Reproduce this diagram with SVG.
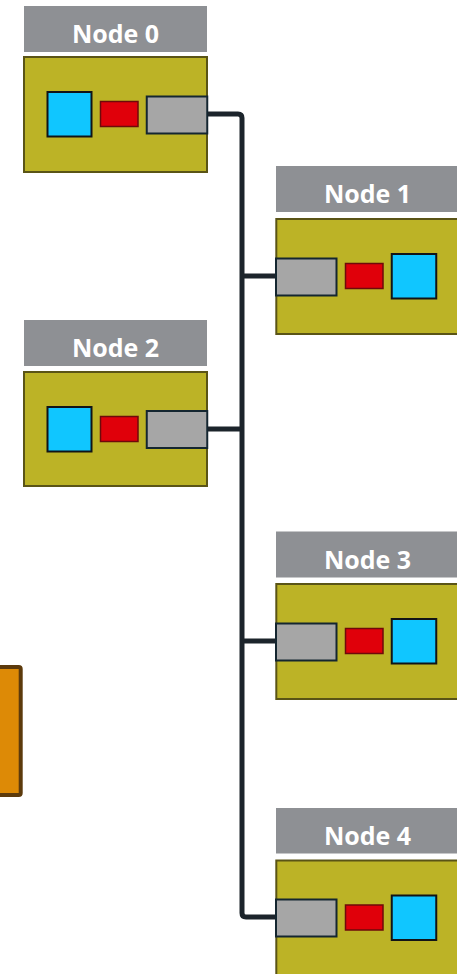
<svg xmlns="http://www.w3.org/2000/svg" width="457" height="974" viewBox="0 0 457 974">
  <style>
    .hdr { fill: #8e9094; }
    .lbl { font-family: "Open Sans", "Noto Sans", sans-serif; font-weight: 700; font-size: 25px; fill: #ffffff; text-anchor: middle; }
    .body { fill: #bcb326; stroke: #5a5416; stroke-width: 2; }
    .blue { fill: #10c6ff; stroke: #111417; stroke-width: 2; }
    .red { fill: #e0000a; stroke: #6e0a0a; stroke-width: 1.5; }
    .gray { fill: #a6a6a6; stroke: #142630; stroke-width: 2; }
    .conn { fill: none; stroke: #1c242b; stroke-width: 5; stroke-linejoin: round; }
  </style>
  <rect width="457" height="974" fill="#ffffff"/>
  <g id="connectors">
    <path class="conn" d="M207,114 H238 Q242,114 242,118 V913 Q242,917 246,917 H276"/>
    <path class="conn" d="M242,276 H276"/>
    <path class="conn" d="M242,429 H207"/>
    <path class="conn" d="M242,641 H276"/>
  </g>
  <g id="node0">
    <rect class="hdr" x="24" y="6" width="183" height="46"/>
    <text class="lbl" x="115.5" y="42.5">Node 0</text>
    <rect class="body" x="24" y="57" width="183" height="115"/>
    <rect class="blue" x="47.5" y="92" width="44" height="44.5"/>
    <rect class="red" x="100.5" y="101.5" width="37.5" height="25"/>
    <rect class="gray" x="146.75" y="96.5" width="60.5" height="37"/>
  </g>
  <g id="node1">
    <rect class="hdr" x="276" y="166" width="183" height="46"/>
    <text class="lbl" x="367.5" y="203">Node 1</text>
    <rect class="body" x="276.3" y="219" width="183" height="115"/>
    <rect class="gray" x="276" y="258.5" width="60.5" height="37"/>
    <rect class="red" x="345.5" y="263.5" width="37.5" height="25"/>
    <rect class="blue" x="391.75" y="254" width="44.5" height="44.5"/>
  </g>
  <g id="node2">
    <rect class="hdr" x="24" y="320" width="183" height="46"/>
    <text class="lbl" x="115.5" y="357">Node 2</text>
    <rect class="body" x="24" y="372" width="183" height="114"/>
    <rect class="blue" x="47.5" y="407" width="44" height="44.5"/>
    <rect class="red" x="100.5" y="416.5" width="37.5" height="25"/>
    <rect class="gray" x="146.75" y="411" width="60.5" height="37"/>
  </g>
  <g id="node3">
    <rect class="hdr" x="276" y="531.5" width="183" height="46"/>
    <text class="lbl" x="367.5" y="568.5">Node 3</text>
    <rect class="body" x="276.3" y="584" width="183" height="115"/>
    <rect class="gray" x="276" y="623.5" width="60.5" height="37"/>
    <rect class="red" x="345.5" y="628.5" width="37.5" height="25"/>
    <rect class="blue" x="391.75" y="619" width="44.5" height="44.5"/>
  </g>
  <g id="node4">
    <rect class="hdr" x="276" y="808" width="183" height="45.5"/>
    <text class="lbl" x="367.5" y="845">Node 4</text>
    <rect class="body" x="276.3" y="860.5" width="183" height="115"/>
    <rect class="gray" x="276" y="899.5" width="60.5" height="37"/>
    <rect class="red" x="345.5" y="905" width="37.5" height="25"/>
    <rect class="blue" x="391.75" y="895.5" width="44.5" height="44.5"/>
  </g>
  <g id="node5">
    <rect x="-10" y="667" width="30.7" height="128" rx="2" fill="#dd8a06" stroke="#5c3a0c" stroke-width="4"/>
  </g>
</svg>
